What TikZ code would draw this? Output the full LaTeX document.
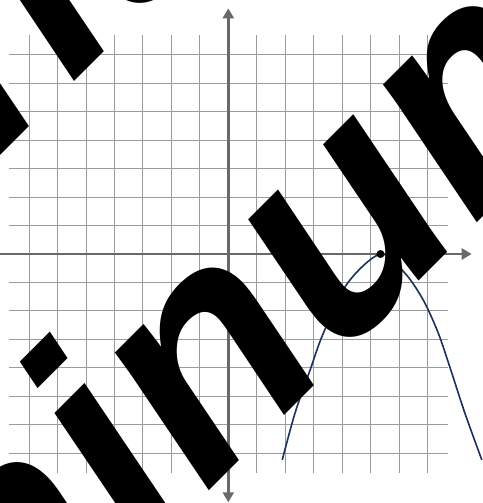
\documentclass[tikz,border=0pt]{standalone}
\usepackage{fontspec}
\newfontfamily\markfont{Liberation Sans}
\definecolor{curvenavy}{RGB}{28, 48, 92}
\definecolor{axisgray}{RGB}{105, 105, 105}
\definecolor{gridgray}{RGB}{155, 155, 155}
\usetikzlibrary{arrows.meta}

\begin{document}
\begin{tikzpicture}[x=21.93pt, y=21.93pt,
    gridline/.style={gridgray, line width=1pt},
    axisline/.style={axisgray, line width=2.8pt, {Triangle[length=10pt, width=11pt]}-{Triangle[length=10pt, width=11pt]}},
    curveline/.style={curvenavy, line width=1.6pt, smooth},
    wmtext/.style={inner sep=0pt, rotate=45, anchor=base west, font=\markfont\bfseries\itshape\fontsize{310}{350}\selectfont}]
  \clip (-10.41, -11.354) rectangle (11.614, 11.582);
  \fill[white] (-10.41, -11.354) rectangle (11.614, 11.582);

  % grid and axes
  \draw[gridline] (-10, -10) grid (10, 10);
  \coordinate (xl) at (-11.1, 0);
  \coordinate (xr) at (11.1, 0);
  \coordinate (yb) at (0, -11.32);
  \coordinate (yt) at (0, 11.2);
  \draw[axisline] (xl) -- (xr);
  \draw[axisline] (yb) -- (yt);

  % parabola through the vertex
  \draw[curveline] plot coordinates {
    (2.46, -9.39) (3.04, -7.26) (3.73, -5.29) (4.33, -3.62) (5.43, -1.34)
    (6.94, 0) (8.06, -0.88) (8.89, -2.10) (9.58, -3.62) (10.13, -5.24)
    (10.79, -7.26) (11.56, -9.39)
  };
  \node[circle, fill=black, inner sep=0pt, minimum size=8pt] (vertex) at (6.94, 0) {};

  % watermark
  \node[wmtext] (wordtop) at (-31.73, -16.87) {Platinum};
  \node[wmtext] (wordbottom) at (-28.82, -38.74) {Aluminum};
\end{tikzpicture}
\end{document}
